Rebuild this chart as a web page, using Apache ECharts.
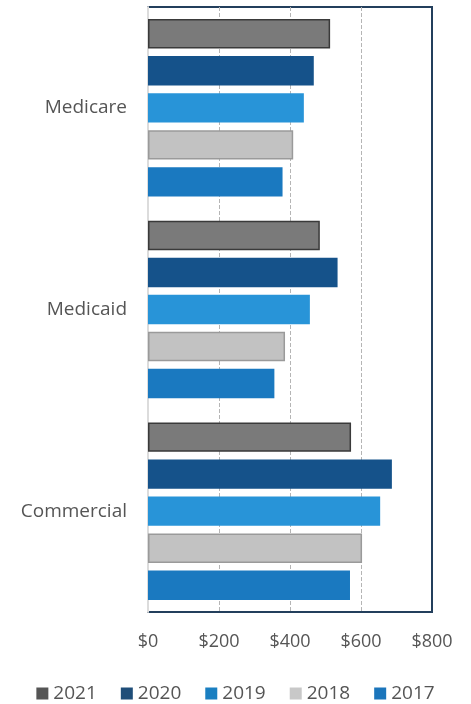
<!DOCTYPE html>
<html><head><meta charset="utf-8">
<script src="https://cdn.jsdelivr.net/npm/echarts@6/dist/echarts.min.js"></script>
<style>html,body{margin:0;padding:0;background:#fff}#c{width:471px;height:704px}</style>
</head><body><div id="c"></div>
<script>
const categories = ['Medicare', 'Medicaid', 'Commercial'];
const years = ['2021', '2020', '2019', '2018', '2017'];
const v2021 = [513, 484, 572];
const v2020 = [467, 534, 687];
const v2019 = [439, 456, 654];
const v2018 = [409, 386, 603];
const v2017 = [379, 356, 569];
const tickLabels = ['$0', '$200', '$400', '$600', '$800'];

const values = [v2021, v2020, v2019, v2018, v2017];
const colors = ['#7a7a7a', '#15528a', '#2894d8', '#c2c2c2', '#1a79c0'];
const borders = ['#3a3a3a', '#15528a', '#2894d8', '#9a9a9a', '#1a79c0'];
const legendColors = ['#555555', '#1f4e79', '#1a7fc1', '#c8c8c8', '#1b75bb'];
const font = '"Open Sans", Lato, sans-serif';

const chart = echarts.init(document.getElementById('c'));
chart.setOption({
  animation: false,
  grid: { left: 148, right: 39, top: 7, bottom: 92, show: true, borderColor: '#233f5c', borderWidth: 2, backgroundColor: 'transparent' },
  legend: {
    top: 679, left: 'center', itemWidth: 12, itemHeight: 12, itemGap: 24,
    icon: 'rect',
    data: years.map(function (y, i) { return { name: y, itemStyle: { color: legendColors[i], borderWidth: 0 } }; }),
    textStyle: { fontFamily: font, fontSize: 19, color: '#555' }
  },
  xAxis: {
    type: 'value', min: 0, max: 800, interval: 200,
    axisLabel: { fontFamily: font, fontSize: 18, color: '#555', margin: 21,
      formatter: function (v) { return tickLabels[v / 200]; } },
    splitLine: { show: true, showMinLine: false, showMaxLine: false, lineStyle: { type: 'dashed', color: '#b5b5b5', width: 1 } },
    axisLine: { show: false }, axisTick: { show: false }
  },
  yAxis: {
    type: 'category', data: categories, inverse: true,
    axisLabel: { fontFamily: font, fontSize: 19, color: '#555', margin: 21 },
    axisLine: { show: true, lineStyle: { color: '#dcdcdc', width: 2 } },
    axisTick: { show: false }
  },
  series: years.map(function (y, i) {
    return {
      name: y, type: 'bar', data: values[i],
      barCategoryGap: '12%', barGap: '26%',
      itemStyle: { color: colors[i], borderColor: borders[i], borderWidth: (i === 0 || i === 3) ? 1.5 : 0 }
    };
  })
});
</script></body></html>
